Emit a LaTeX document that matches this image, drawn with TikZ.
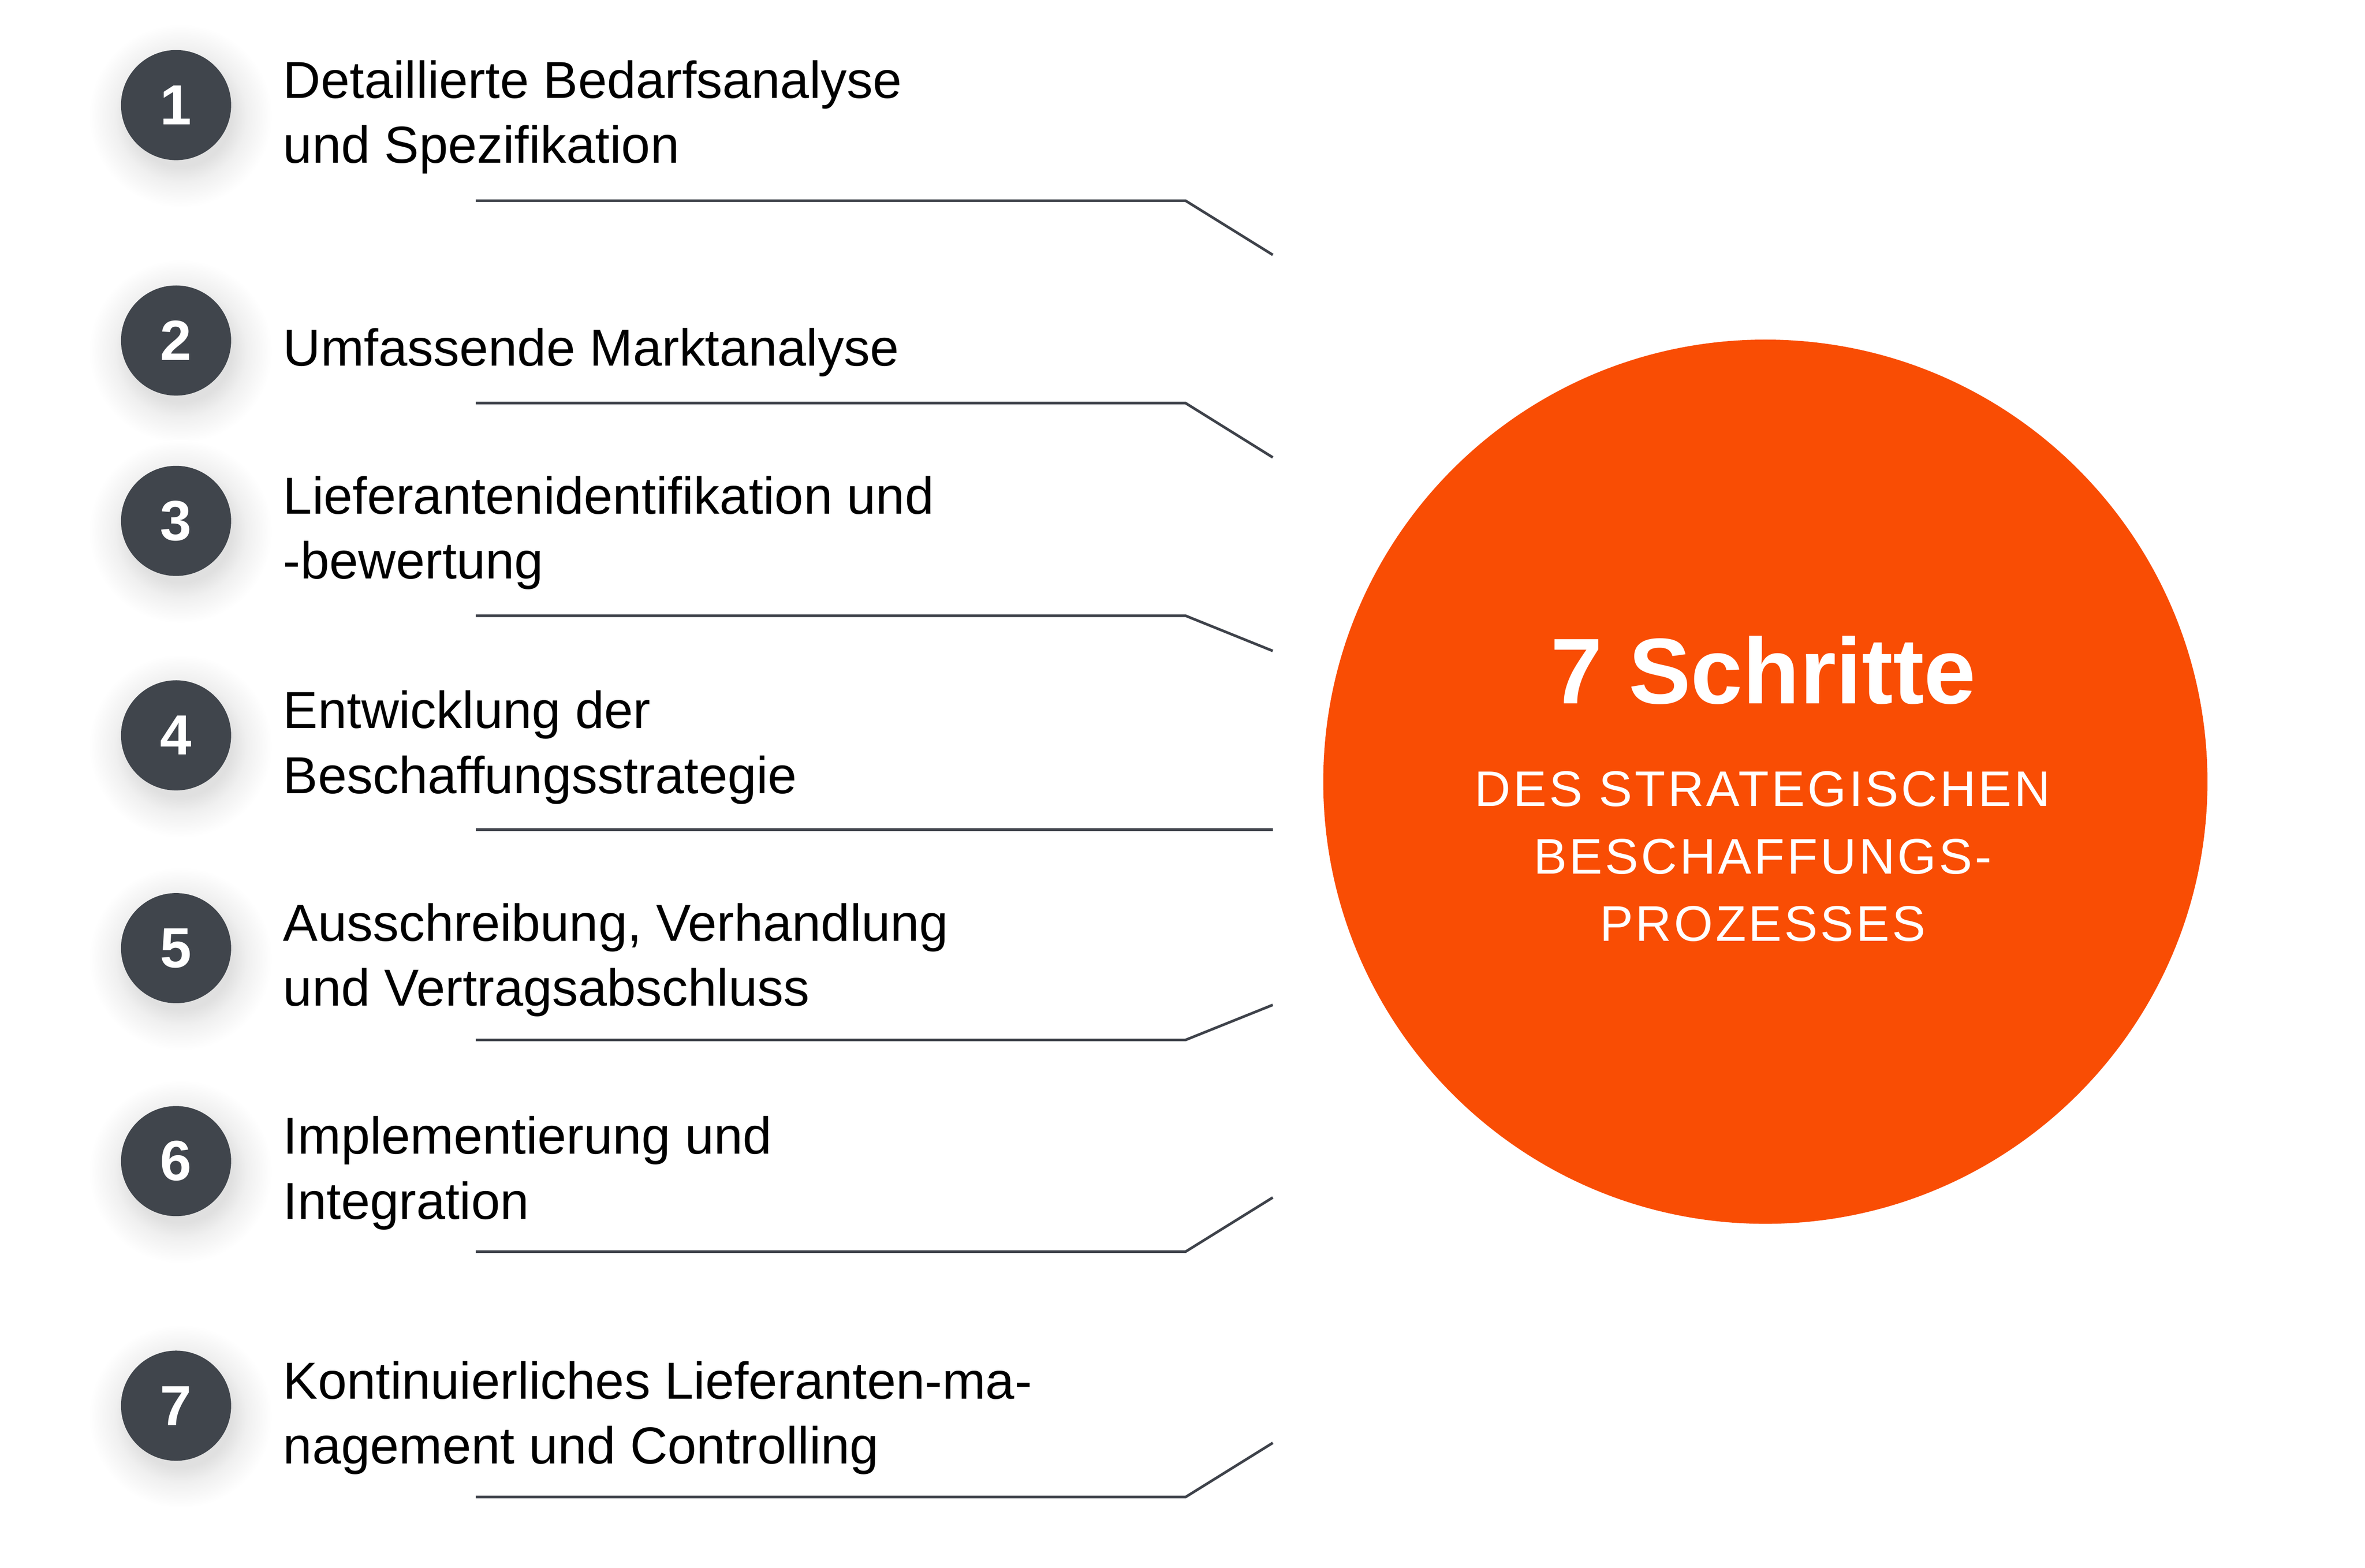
\documentclass[tikz,border=0pt]{standalone}
\usepackage{fontspec}
\setmainfont{Liberation Sans}
\newfontfamily\capsfont[LetterSpace=5]{Liberation Sans}
\usepackage{xcolor}
\usetikzlibrary{calc}
\usetikzlibrary{positioning}

\definecolor{stepgray}{HTML}{40454C}
\definecolor{linegray}{HTML}{3E424A}
\definecolor{brandorange}{HTML}{F94D04}
\def\linew{1.7pt}

\pgfdeclareradialshading{numshadow}{\pgfpoint{0bp}{0bp}}{%
	color(0bp)=(black!12); color(14bp)=(black!12); color(18bp)=(black!6);
	color(25bp)=(white); color(50bp)=(white)}

\tikzset{
numcircle/.style={circle, fill=stepgray, minimum size=72pt, inner sep=0pt,
	text=white, font=\fontsize{37}{37}\selectfont\bfseries},
steptext/.style={anchor=north west, inner sep=0pt, align=left,
	font=\fontsize{34}{42.4}\selectfont},
leader/.style={draw=linegray, line width=\linew, line join=miter},
hub/.style={circle, fill=brandorange, minimum size=578pt, inner sep=0pt},
headline/.style={inner sep=0pt, text=white, font=\fontsize{61}{61}\selectfont\bfseries},
subline/.style={inner sep=0pt, text=white, align=center, font=\fontsize{32.7}{44}\capsfont},
}

\begin{document}
\begin{tikzpicture}[x=1pt, y=1pt]
\path[use as bounding box, fill=white] (0,0) rectangle (1546,-1024.7);

%Place the steps
\foreach \i/\cy/\off/\txt in {
	1/68.7/29.4/{Detaillierte Bedarfsanalyse\\und Spezifikation},
	2/222.6/8.4/{Umfassende Marktanalyse},
	3/340.5/29.4/{Lieferantenidentifikation und\\-bewertung},
	4/480.7/29.4/{Entwicklung der\\Beschaffungsstrategie},
	5/619.8/29.4/{Ausschreibung, Verhandlung\\und Vertragsabschluss},
	6/759/29.4/{Implementierung und\\Integration},
	7/918.9/29.4/{Kontinuierliches Lieferanten-ma-\\nagement und Controlling}} {
	\shade[shading=numshadow] (118.1,-\cy-7) circle (60);
	\node[numcircle] (n\i) at (115.1,-\cy) {\i};
	\node[steptext] (t\i) at ($(n\i)+(69.9,\off)$) {\txt};
}

%Leader lines
\foreach \i/\ly/\dy in {1/131.2/-35.4, 2/263.5/-35.5, 3/402.5/-23, 4/542.4/0,
	5/679.8/22.9, 6/818.2/35.4, 7/978.6/35.4} {
	\coordinate (a\i) at (311,-\ly);
	\coordinate (b\i) at (775,-\ly);
	\coordinate (c\i) at (832,-\ly+\dy);
	\draw[leader] (a\i) -- (b\i) -- (c\i);
}

%Centre circle
\node[hub] (core) at (1154,-511) {};
\node[headline, anchor=base] (head) at ($(core)+(-1.2,51)$) {7 Schritte};
\node[subline, anchor=north] (sub) at ($(core)+(-1.8,6.9)$) {DES STRATEGISCHEN\\BESCHAFFUNGS-\\PROZESSES};

\end{tikzpicture}
\end{document}
